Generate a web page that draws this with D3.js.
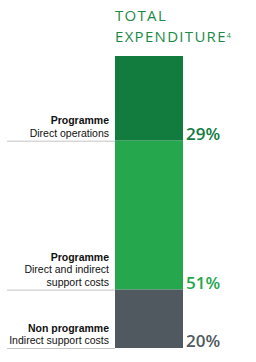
<!DOCTYPE html>
<html>
<head>
<meta charset="utf-8">
<script src="https://cdn.jsdelivr.net/npm/d3@7"></script>
<style>
  body { margin: 0; background: #fff; }
  svg { display: block; }
</style>
</head>
<body>
<div id="chart"></div>
<script>
// segments, top to bottom
const categories = ["Programme", "Programme", "Non programme"];
const subLabels = [["Direct operations"], ["Direct and indirect", "support costs"], ["Indirect support costs"]];
const shares = [29, 51, 20];
const colors = ["#127c3f", "#25a74d", "#4f595f"];
const labelColors = ["#127c3f", "#25a74d", "#4f595f"];

const width = 256, height = 362;
const barLeft = 115, barRight = 183, barTop = 56, barBottom = 348;

const svg = d3.select("#chart").append("svg")
  .attr("width", width)
  .attr("height", height);

// title
const title = svg.append("text")
  .attr("x", barLeft)
  .attr("fill", "#1b8a47")
  .style("font-family", "'Open Sans', sans-serif")
  .style("font-size", "15px")
  .style("letter-spacing", "1.3px");
title.append("tspan").attr("x", barLeft).attr("y", 21).text("TOTAL");
title.append("tspan").attr("x", barLeft).attr("y", 42).text("EXPENDITURE");
title.append("tspan").attr("dy", -4).style("font-size", "7px").style("letter-spacing", "0px").text("4");

// stack
let acc = 0;
const data = shares.map((v, i) => {
  const d = { i, cat: categories[i], sub: subLabels[i], value: v, y0: acc, y1: acc + v };
  acc += v;
  return d;
});

const y = d3.scaleLinear()
  .domain([0, d3.sum(shares)])
  .range([barTop, barBottom]);

svg.selectAll("rect.seg")
  .data(data)
  .join("rect")
  .attr("class", "seg")
  .attr("x", barLeft)
  .attr("width", barRight - barLeft)
  .attr("y", d => y(d.y0))
  .attr("height", d => y(d.y1) - y(d.y0))
  .attr("fill", (d, i) => colors[i]);

// separator lines on the left
svg.selectAll("line.sep")
  .data(data)
  .join("line")
  .attr("class", "sep")
  .attr("x1", 7)
  .attr("x2", barLeft)
  .attr("y1", d => y(d.y1) + 0.5)
  .attr("y2", d => y(d.y1) + 0.5)
  .attr("stroke", "#c4c4c4")
  .attr("stroke-width", 1);

// left labels
const lab = svg.selectAll("g.lab")
  .data(data)
  .join("g")
  .attr("class", "lab")
  .attr("transform", d => `translate(109, ${y(d.y1)})`)
  .style("font-family", "'Liberation Sans', Arial, sans-serif")
  .style("font-size", "10.5px")
  .attr("text-anchor", "end")
  .attr("fill", "#111");

lab.append("text")
  .attr("y", d => -4 - d.sub.length * 12.5)
  .style("font-weight", "bold")
  .text(d => d.cat);

lab.each(function (d) {
  const g = d3.select(this);
  d.sub.forEach((s, k) => {
    g.append("text")
      .attr("y", -4 - (d.sub.length - 1 - k) * 12.5)
      .text(s);
  });
});

// percentages
svg.selectAll("text.pct")
  .data(data)
  .join("text")
  .attr("class", "pct")
  .attr("x", 186)
  .attr("y", d => y(d.y1) - 1)
  .attr("fill", (d, i) => labelColors[i])
  .style("font-family", "'Open Sans', sans-serif")
  .style("font-size", "17px")
  .style("font-weight", "600")
  .text(d => d.value + "%");
</script>
</body>
</html>
